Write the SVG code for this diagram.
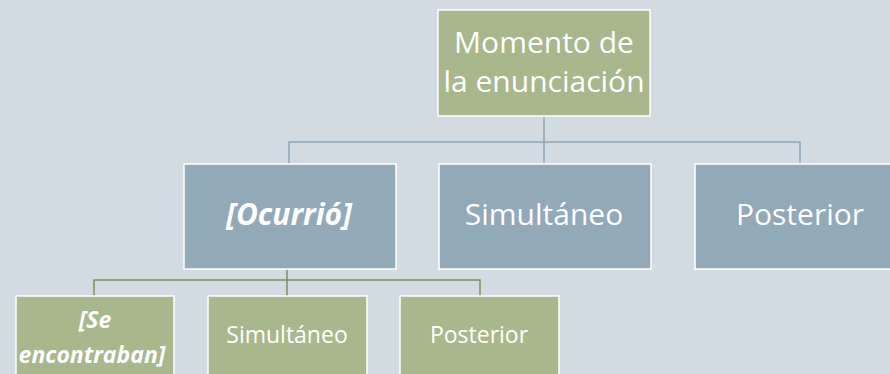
<svg xmlns="http://www.w3.org/2000/svg" width="890" height="374" viewBox="0 0 890 374">
<style>
.bg{fill:#d3dbe2}
.g{fill:#a8b78c;stroke:#ffffff;stroke-width:1.5}
.b{fill:#92a9b9;stroke:#ffffff;stroke-width:1.5}
.lb{fill:none;stroke:#8fa6b8;stroke-width:1.5}
.lg{fill:none;stroke:#7f9060;stroke-width:1.5}
text{font-family:"Open Sans","Noto Sans",sans-serif;fill:#ffffff;text-anchor:middle}
.big{font-size:30px}
.sm{font-size:23px}
.bi{font-weight:bold;font-style:italic}
</style>
<rect class="bg" x="0" y="0" width="890" height="374"/>
<g id="connectors">
<path class="lb" d="M544,116 V142 M289,164 V142 H800 V164 M544,142 V164"/>
<path class="lg" d="M287,269 V296 M94,296 V280 H480 V296"/>
</g>
<g id="n-momento">
<rect class="g" x="438" y="10" width="212" height="106"/>
<text class="big" x="544" y="53">Momento de</text>
<text class="big" x="544" y="92">la enunciación</text>
</g>
<g id="n-ocurrio">
<rect class="b" x="184" y="164" width="212" height="105"/>
<text class="big bi" x="289" y="225">[Ocurrió]</text>
</g>
<g id="n-simultaneo1">
<rect class="b" x="439" y="164" width="212" height="105"/>
<text class="big" x="544" y="225">Simultáneo</text>
</g>
<g id="n-posterior1">
<rect class="b" x="695" y="164" width="212" height="105"/>
<text class="big" x="800" y="225">Posterior</text>
</g>
<g id="n-seencontraban">
<rect class="g" x="16" y="296" width="158" height="80"/>
<text class="sm bi" x="95" y="328">[Se</text>
<text class="sm bi" x="92" y="363">encontraban]</text>
</g>
<g id="n-simultaneo2">
<rect class="g" x="208" y="296" width="159" height="80"/>
<text class="sm" x="287" y="343">Simultáneo</text>
</g>
<g id="n-posterior2">
<rect class="g" x="400" y="296" width="159" height="80"/>
<text class="sm" x="479" y="343">Posterior</text>
</g>
</svg>
